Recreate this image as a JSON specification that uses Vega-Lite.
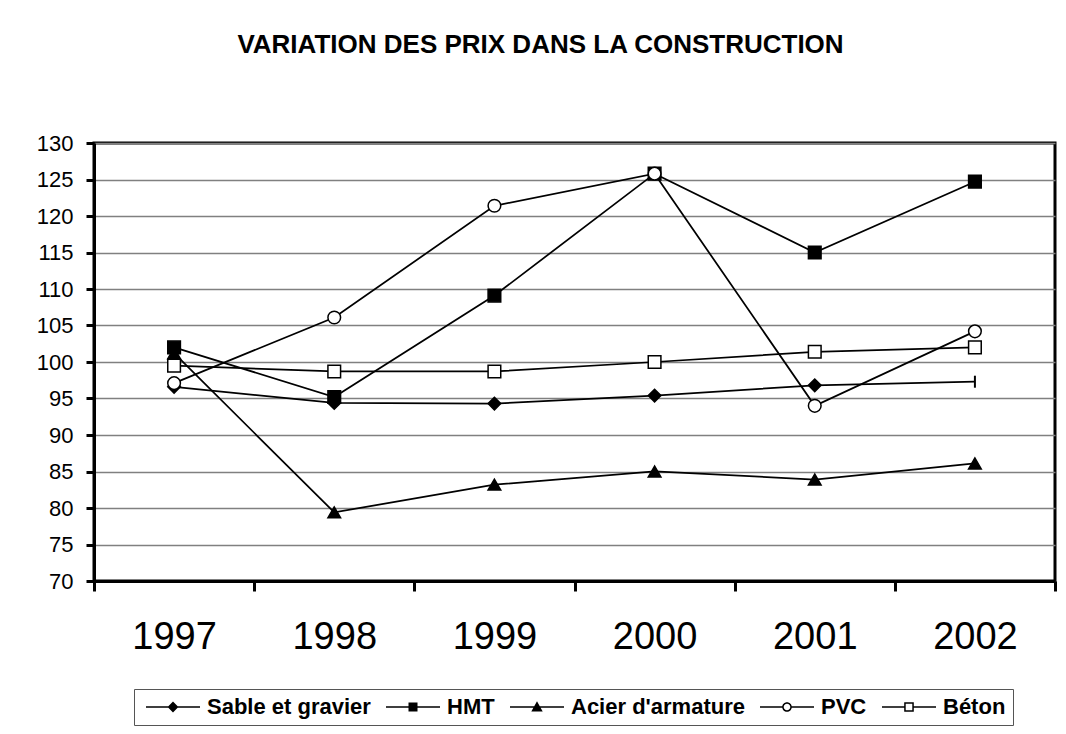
{
  "$schema": "https://vega.github.io/schema/vega-lite/v6.json",
  "width": 961,
  "height": 438,
  "autosize": "none",
  "padding": {"left": 94, "top": 143, "right": 11, "bottom": 153},
  "background": "white",
  "title": {
    "text": "VARIATION DES PRIX DANS LA CONSTRUCTION",
    "font": "Liberation Sans",
    "fontSize": 26,
    "fontWeight": "bold",
    "color": "black",
    "anchor": "middle",
    "dx": -34,
    "baseline": "alphabetic",
    "offset": 53
  },
  "config": {
    "view": {"stroke": "black", "strokeWidth": 3},
    "font": "Liberation Sans"
  },
  "data": {
    "values": [
      {"year": "1997", "series": "Sable et gravier", "value": 96.6},
      {"year": "1998", "series": "Sable et gravier", "value": 94.4},
      {"year": "1999", "series": "Sable et gravier", "value": 94.3},
      {"year": "2000", "series": "Sable et gravier", "value": 95.4},
      {"year": "2001", "series": "Sable et gravier", "value": 96.8},
      {"year": "2002", "series": "Sable et gravier", "value": 97.3},
      {"year": "1997", "series": "HMT", "value": 102.0},
      {"year": "1998", "series": "HMT", "value": 95.2},
      {"year": "1999", "series": "HMT", "value": 109.1},
      {"year": "2000", "series": "HMT", "value": 125.8},
      {"year": "2001", "series": "HMT", "value": 115.0},
      {"year": "2002", "series": "HMT", "value": 124.7},
      {"year": "1997", "series": "Acier d'armature", "value": 101.2},
      {"year": "1998", "series": "Acier d'armature", "value": 79.4},
      {"year": "1999", "series": "Acier d'armature", "value": 83.2},
      {"year": "2000", "series": "Acier d'armature", "value": 85.0},
      {"year": "2001", "series": "Acier d'armature", "value": 83.9},
      {"year": "2002", "series": "Acier d'armature", "value": 86.1},
      {"year": "1997", "series": "PVC", "value": 97.1},
      {"year": "1998", "series": "PVC", "value": 106.1},
      {"year": "1999", "series": "PVC", "value": 121.4},
      {"year": "2000", "series": "PVC", "value": 125.8},
      {"year": "2001", "series": "PVC", "value": 94.0},
      {"year": "2002", "series": "PVC", "value": 104.2},
      {"year": "1997", "series": "Béton", "value": 99.5},
      {"year": "1998", "series": "Béton", "value": 98.7},
      {"year": "1999", "series": "Béton", "value": 98.7},
      {"year": "2000", "series": "Béton", "value": 100.0},
      {"year": "2001", "series": "Béton", "value": 101.4},
      {"year": "2002", "series": "Béton", "value": 102.0}
    ]
  },
  "encoding": {
    "x": {
      "field": "year",
      "type": "ordinal",
      "scale": {"type": "band", "paddingInner": 0, "paddingOuter": 0},
      "axis": {
        "title": null,
        "labelAngle": 0,
        "labelFont": "Liberation Sans",
        "labelFontSize": 38,
        "labelColor": "black",
        "labelPadding": 27,
        "tickBand": "extent",
        "tickSize": 10,
        "tickWidth": 3,
        "tickColor": "black",
        "domainColor": "black",
        "domainWidth": 3,
        "grid": false
      }
    },
    "y": {
      "field": "value",
      "type": "quantitative",
      "scale": {"domain": [70, 130], "nice": false, "zero": false},
      "axis": {
        "title": null,
        "values": [70, 75, 80, 85, 90, 95, 100, 105, 110, 115, 120, 125, 130],
        "labelFont": "Liberation Sans",
        "labelFontSize": 22,
        "labelColor": "black",
        "labelPadding": 13,
        "tickSize": 8,
        "tickWidth": 3,
        "tickColor": "black",
        "domainColor": "black",
        "domainWidth": 3,
        "grid": true,
        "gridColor": "#808080",
        "gridWidth": 1.5,
        "gridOpacity": 1
      }
    }
  },
  "resolve": {"scale": {"shape": "independent", "fill": "independent"}},
  "layer": [
    {
      "mark": {"type": "line", "color": "black", "strokeWidth": 1.75},
      "encoding": {"detail": {"field": "series", "type": "nominal"}}
    },
    {
      "transform": [{"filter": "!(datum.series === 'Sable et gravier' && datum.year === '2002')"}],
      "mark": {"type": "point", "filled": true, "stroke": "black", "strokeWidth": 1.5, "size": 160, "opacity": 1},
      "encoding": {
        "shape": {
          "field": "series",
          "type": "nominal",
          "scale": {
            "domain": ["Sable et gravier", "HMT", "Acier d'armature", "PVC", "Béton"],
            "range": ["diamond", "square", "triangle-up", "circle", "square"]
          },
          "legend": null
        },
        "fill": {
          "field": "series",
          "type": "nominal",
          "scale": {
            "domain": ["Sable et gravier", "HMT", "Acier d'armature", "PVC", "Béton"],
            "range": ["black", "black", "black", "white", "white"]
          },
          "legend": null
        }
      }
    },
    {
      "transform": [{"filter": "datum.series === 'Sable et gravier' && datum.year === '2002'"}],
      "mark": {"type": "point", "shape": "M0,-1V1", "stroke": "black", "strokeWidth": 2, "size": 144, "filled": false, "opacity": 1}
    },
    {
      "transform": [{"filter": "false"}],
      "mark": {"type": "point", "filled": true, "color": "black", "size": 144, "opacity": 1},
      "encoding": {
        "shape": {
          "field": "series",
          "type": "nominal",
          "scale": {
            "domain": ["Sable et gravier", "HMT", "Acier d'armature", "PVC", "Béton"],
            "range": [
              "M-1,-0.13H8V0.13H-1ZM3.5,-0.9L4.4,0L3.5,0.9L2.6,0Z",
              "M-1,-0.13H8V0.13H-1ZM2.75,-0.75H4.25V0.75H2.75Z",
              "M-1,-0.13H8V0.13H-1ZM3.5,-0.95L4.45,0.75L2.55,0.75Z",
              "M-1,-0.13H2.72V0.13H-1ZM4.28,-0.13H8V0.13H4.28ZM4.3,0A0.8,0.8,0,1,1,2.7,0A0.8,0.8,0,1,1,4.3,0ZM4.05,0A0.55,0.55,0,1,0,2.95,0A0.55,0.55,0,1,0,4.05,0Z",
              "M-1,-0.13H2.72V0.13H-1ZM4.28,-0.13H8V0.13H4.28ZM2.7,-0.8H4.3V0.8H2.7ZM2.95,-0.55V0.55H4.05V-0.55Z"
            ]
          },
          "legend": {
            "title": null,
            "orient": "none",
            "legendX": 40,
            "legendY": 546,
            "direction": "horizontal",
            "columns": 5,
            "padding": 7,
            "strokeColor": "#555555",
            "fillColor": "white",
            "labelFont": "Liberation Sans",
            "labelFontSize": 22,
            "labelFontWeight": "bold",
            "labelColor": "black",
            "labelLimit": 400,
            "labelOffset": 44,
            "columnPadding": 10,
            "symbolSize": 144,
            "symbolFillColor": "black",
            "symbolStrokeWidth": 0,
            "symbolOpacity": 1
          }
        }
      }
    }
  ]
}
